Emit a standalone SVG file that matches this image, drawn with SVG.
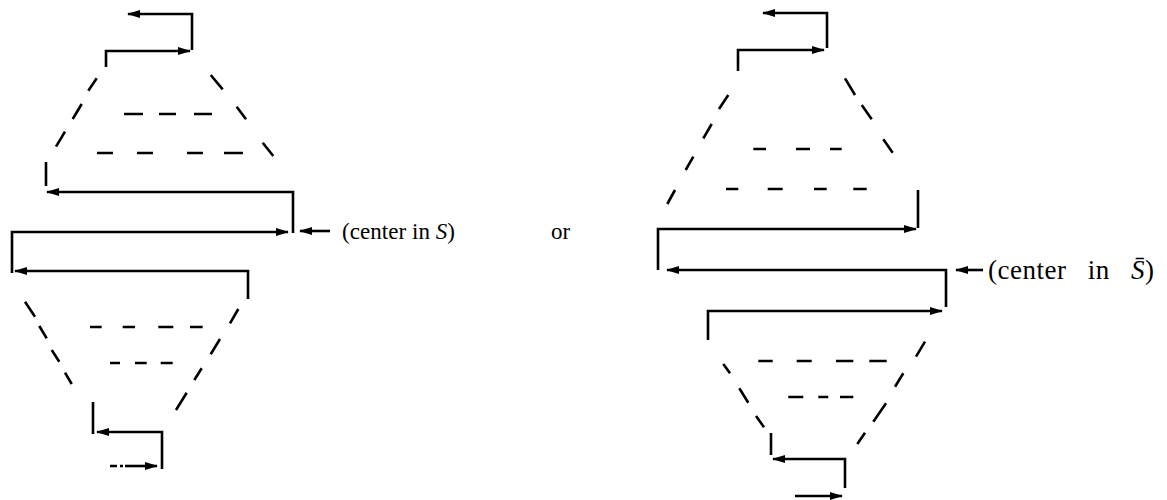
<svg xmlns="http://www.w3.org/2000/svg" width="1167" height="500" viewBox="0 0 1167 500">
<style>
.ln{fill:none;stroke:#000;stroke-width:2.6;stroke-linecap:butt;stroke-linejoin:miter}
.ds{fill:none;stroke:#000;stroke-width:2.6;stroke-linecap:butt}
.tx{font-family:"Liberation Serif","Times New Roman",serif;font-size:23px;fill:#000}
.it{font-style:italic}
</style>
<defs>
<marker id="ah" viewBox="0 0 13 8" markerWidth="13" markerHeight="8" refX="12" refY="4" orient="auto" markerUnits="userSpaceOnUse">
<path d="M0,0 L13,4 L0,8 z" fill="#000"/>
</marker>
</defs>
<rect width="1167" height="500" fill="#fff"/>

<g id="left-figure">
<g id="left-top-dashes">
<path class="ds" d="M96.7,78.3 L88.3,90.7 M81.7,104 L72.7,119 M65,131.7 L56,146.7"/>
<path class="ds" d="M210.7,75 L222.7,89.3 M236.7,106.7 L246,119.3 M262.7,142.7 L273.3,156"/>
<path class="ds" d="M124,114 H143 M159,114 H176 M194,114 H212"/>
<path class="ds" d="M97,153 H113 M137,153 H153 M187,153 H203 M224,153 H243"/>
</g>
<g id="left-bottom-dashes">
<path class="ds" d="M25,301.7 L35,316.7 M39.3,326 L46.7,338.3 M51.7,350 L59.3,361.7 M65,372.7 L71.7,384"/>
<path class="ds" d="M238.3,309 L230,323.3 M220,339 L210.7,354.3 M201.7,368.3 L194.3,380 M186.7,392.7 L176,410"/>
<path class="ds" d="M90,327 H101.7 M122.7,327 H135 M158.3,327 H173.3 M190,327 H202.7"/>
<path class="ds" d="M110,363 H120 M135,363 H146.7 M160.7,363 H172.7"/>
</g>
</g>

<g id="right-figure">
<g id="right-top-dashes">
<path class="ds" d="M728.3,95 L719,109 M711.7,124 L703.3,138.3 M693.3,156.7 L685.7,170 M675,190 L667.3,204"/>
<path class="ds" d="M845,78.3 L855,95 M861.7,105 L871.7,119.3 M883.3,139.3 L892.7,152.7"/>
<path class="ds" d="M753.3,149 H766 M796,149 H810 M830,149 H841.7"/>
<path class="ds" d="M726,189 H738.3 M767.7,189 H782.7 M814,189 H826.7 M853.3,189 H866.7"/>
</g>
<g id="right-bottom-dashes">
<path class="ds" d="M723.3,364 L730,373.3 M739.3,388.3 L748.3,402.7 M756,416 L764,427.3"/>
<path class="ds" d="M925,341.7 L916,356.7 M903.3,373.3 L895,386.7 M886,403.3 L873.3,421.7 M865,432.7 L857.3,444"/>
<path class="ds" d="M758.3,361 H772.7 M796.7,361 H811.7 M836,361 H853.3 M869.3,361 H886.7"/>
<path class="ds" d="M788.3,397 H803.3 M818.3,397 H828.3 M840,397 H853.3"/>
</g>
</g>

<g id="connectors">
<path class="ln" d="M192,50 V14 H128" marker-end="url(#ah)"/>
<path class="ln" d="M106,67 V51 H190" marker-end="url(#ah)"/>
<path class="ln" d="M46,162 V186"/>
<path class="ln" d="M293,233 V192 H47" marker-end="url(#ah)"/>
<path class="ln" d="M12,273 V232 H288" marker-end="url(#ah)"/>
<path class="ln" d="M248,299 V271 H15" marker-end="url(#ah)"/>
<path class="ln" d="M93,402 V434"/>
<path class="ln" d="M162,469 V432 H97" marker-end="url(#ah)"/>
<path class="ln" d="M110,466 H117 M120,466 H123"/>
<path class="ln" d="M125,466 H157" marker-end="url(#ah)"/>
<path class="ln" d="M330,231 H300" marker-end="url(#ah)"/>

<path class="ln" d="M827,48 V13 H763" marker-end="url(#ah)"/>
<path class="ln" d="M738,71 V50 H824" marker-end="url(#ah)"/>
<path class="ln" d="M918,190 V228"/>
<path class="ln" d="M658,270 V229 H916" marker-end="url(#ah)"/>
<path class="ln" d="M946,307 V270 H667" marker-end="url(#ah)"/>
<path class="ln" d="M708,340 V311 H942" marker-end="url(#ah)"/>
<path class="ln" d="M771,433 V455"/>
<path class="ln" d="M845,488 V459 H773" marker-end="url(#ah)"/>
<path class="ln" d="M795,496 H842" marker-end="url(#ah)"/>
<path class="ln" d="M983,270 H956" marker-end="url(#ah)"/>
</g>

<g id="labels">
<text class="tx" x="342" y="239" textLength="113" lengthAdjust="spacing">(center in <tspan class="it">S</tspan>)</text>
<text class="tx" x="551" y="239">or</text>
<text class="tx" x="988" y="279" style="font-size:27px;letter-spacing:0.5px;word-spacing:14px">(center in <tspan class="it">S̄</tspan>)</text>
</g>
</svg>
